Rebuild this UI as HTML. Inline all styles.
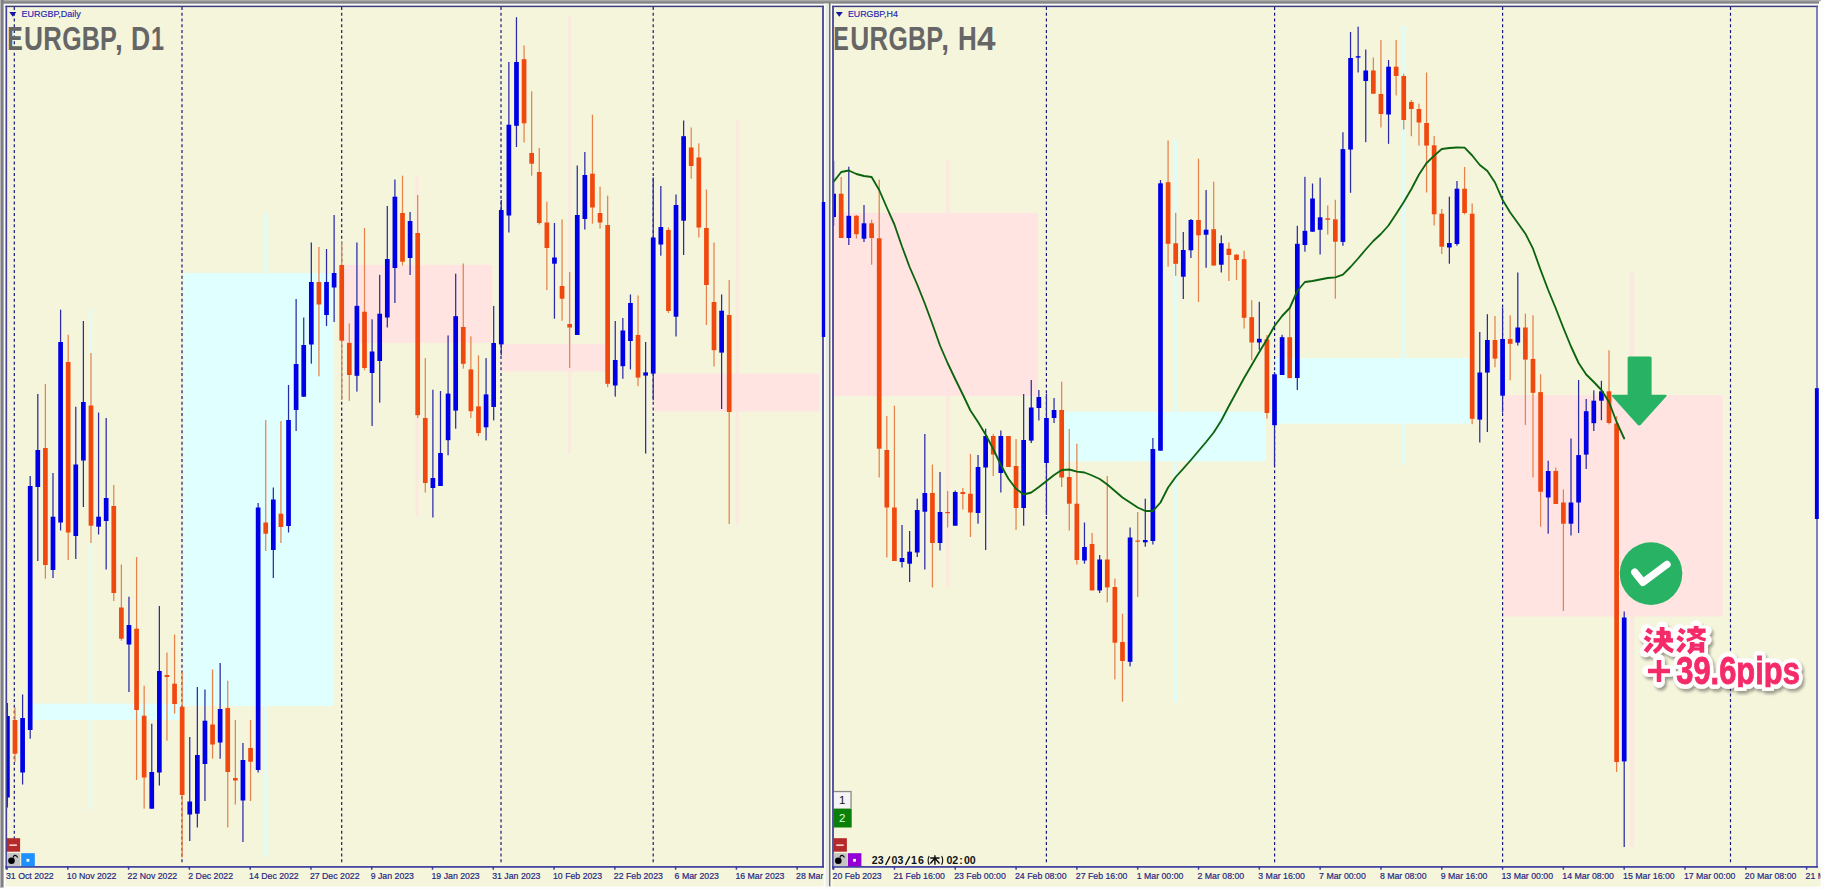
<!DOCTYPE html><html><head><meta charset="utf-8"><title>EURGBP</title><style>html,body{margin:0;padding:0;background:#fdfdfd;width:1824px;height:890px;overflow:hidden;font-family:"Liberation Sans",sans-serif}</style></head><body><svg width="1824" height="890" viewBox="0 0 1824 890" style="display:block;position:absolute;left:0;top:0" font-family="Liberation Sans, sans-serif">
<defs>
<clipPath id="cl"><rect x="6.8" y="6.8" width="815.6" height="859.4"/></clipPath>
<clipPath id="cr"><rect x="833.5" y="6.8" width="983" height="859.4"/></clipPath>
<clipPath id="cl2"><rect x="4" y="866" width="819.5" height="22"/></clipPath>
<clipPath id="cr2"><rect x="830" y="866" width="990.5" height="22"/></clipPath>
<filter id="sh" x="-20%" y="-20%" width="140%" height="150%"><feGaussianBlur in="SourceAlpha" stdDeviation="1.6"/><feOffset dx="1.5" dy="2.5"/><feComponentTransfer><feFuncA type="linear" slope="0.36"/></feComponentTransfer><feMerge><feMergeNode/><feMergeNode in="SourceGraphic"/></feMerge></filter>
<clipPath id="ctp"><rect x="1600" y="600" width="224" height="87.3"/></clipPath><clipPath id="ctw"><rect x="1600" y="600" width="224" height="90.8"/></clipPath>
</defs>
<rect x="0.00" y="0.00" width="1824.00" height="890.00" fill="#fdfdfd" />
<rect x="0.00" y="0.00" width="1819.00" height="3.70" fill="#868686" />
<rect x="0.00" y="0.00" width="1821.00" height="1.30" fill="#ababab" />
<rect x="0.00" y="0.00" width="3.60" height="887.50" fill="#808084" />
<rect x="0.00" y="0.00" width="1.00" height="887.50" fill="#b4b4b4" />
<rect x="5.60" y="5.80" width="818.30" height="880.60" fill="#f5f5dc" />
<rect x="832.00" y="5.80" width="986.20" height="880.60" fill="#f5f5dc" />
<rect x="832.00" y="867.00" width="988.60" height="19.40" fill="#f5f5dc" />
<rect x="823.90" y="3.70" width="8.30" height="883.00" fill="#fdfdf8" />
<rect x="825.60" y="3.70" width="2.70" height="883.00" fill="#ebebe6" />
<rect x="828.90" y="2.80" width="1.60" height="883.60" fill="#6f736f" />
<g clip-path="url(#cl)">
<rect x="89.20" y="308.00" width="3.00" height="502.00" fill="#e3fbf5" />
<rect x="32.50" y="703.70" width="151.20" height="16.30" fill="#e0ffff" />
<rect x="264.00" y="213.00" width="3.00" height="644.00" fill="#e3fbf5" />
<rect x="183.70" y="273.00" width="149.80" height="433.00" fill="#e0ffff" />
<rect x="415.50" y="176.00" width="3.00" height="341.00" fill="#fbe9e0" />
<rect x="341.80" y="264.80" width="150.50" height="78.10" fill="#ffe4e1" />
<rect x="568.20" y="16.70" width="3.00" height="436.80" fill="#fbe9e0" />
<rect x="502.00" y="344.00" width="104.00" height="27.40" fill="#ffe4e1" />
<rect x="735.70" y="120.00" width="3.00" height="405.00" fill="#fbe9e0" />
<rect x="654.20" y="373.60" width="165.60" height="37.80" fill="#ffe4e1" />
<line x1="14.3" y1="7" x2="14.3" y2="864" stroke="#16167c" stroke-width="1.2" stroke-dasharray="3 2.72"/>
<line x1="182" y1="7" x2="182" y2="864" stroke="#16167c" stroke-width="1.2" stroke-dasharray="3 2.72"/>
<line x1="341.7" y1="7" x2="341.7" y2="864" stroke="#16167c" stroke-width="1.2" stroke-dasharray="3 2.72"/>
<line x1="501" y1="7" x2="501" y2="864" stroke="#16167c" stroke-width="1.2" stroke-dasharray="3 2.72"/>
<line x1="653.2" y1="7" x2="653.2" y2="864" stroke="#16167c" stroke-width="1.2" stroke-dasharray="3 2.72"/>
<rect x="6.78" y="703.00" width="1.25" height="104.50" fill="#2b2ba8" />
<rect x="5.05" y="716.00" width="4.70" height="81.50" fill="#0000e6" />
<rect x="14.37" y="707.50" width="1.25" height="54.50" fill="#e6834c" />
<rect x="12.65" y="720.00" width="4.70" height="33.70" fill="#f0490f" />
<rect x="21.97" y="694.50" width="1.25" height="90.00" fill="#2b2ba8" />
<rect x="20.25" y="718.00" width="4.70" height="54.50" fill="#0000e6" />
<rect x="29.57" y="476.00" width="1.25" height="262.70" fill="#2b2ba8" />
<rect x="27.84" y="486.00" width="4.70" height="244.00" fill="#0000e6" />
<rect x="37.17" y="394.00" width="1.25" height="167.00" fill="#2b2ba8" />
<rect x="35.44" y="450.00" width="4.70" height="37.00" fill="#0000e6" />
<rect x="44.77" y="384.00" width="1.25" height="194.70" fill="#e6834c" />
<rect x="43.04" y="448.00" width="4.70" height="117.00" fill="#f0490f" />
<rect x="52.36" y="473.00" width="1.25" height="105.00" fill="#2b2ba8" />
<rect x="50.64" y="516.70" width="4.70" height="53.30" fill="#0000e6" />
<rect x="59.96" y="309.70" width="1.25" height="220.80" fill="#2b2ba8" />
<rect x="58.24" y="342.00" width="4.70" height="180.50" fill="#0000e6" />
<rect x="67.56" y="334.70" width="1.25" height="225.30" fill="#e6834c" />
<rect x="65.83" y="362.00" width="4.70" height="170.50" fill="#f0490f" />
<rect x="75.16" y="406.70" width="1.25" height="152.30" fill="#2b2ba8" />
<rect x="73.43" y="464.50" width="4.70" height="71.50" fill="#0000e6" />
<rect x="82.76" y="321.00" width="1.25" height="186.00" fill="#2b2ba8" />
<rect x="81.03" y="402.00" width="4.70" height="58.50" fill="#0000e6" />
<rect x="90.35" y="353.00" width="1.25" height="190.00" fill="#e6834c" />
<rect x="88.63" y="405.50" width="4.70" height="120.20" fill="#f0490f" />
<rect x="97.95" y="412.50" width="1.25" height="122.00" fill="#2b2ba8" />
<rect x="96.23" y="516.70" width="4.70" height="10.00" fill="#0000e6" />
<rect x="105.55" y="418.00" width="1.25" height="151.50" fill="#2b2ba8" />
<rect x="103.82" y="498.00" width="4.70" height="23.00" fill="#0000e6" />
<rect x="113.15" y="485.00" width="1.25" height="116.00" fill="#e6834c" />
<rect x="111.42" y="506.00" width="4.70" height="87.00" fill="#f0490f" />
<rect x="120.75" y="564.50" width="1.25" height="76.20" fill="#e6834c" />
<rect x="119.02" y="607.50" width="4.70" height="31.20" fill="#f0490f" />
<rect x="128.34" y="596.70" width="1.25" height="95.30" fill="#2b2ba8" />
<rect x="126.62" y="625.00" width="4.70" height="19.50" fill="#0000e6" />
<rect x="135.94" y="557.00" width="1.25" height="223.00" fill="#e6834c" />
<rect x="134.22" y="628.70" width="4.70" height="81.30" fill="#f0490f" />
<rect x="143.54" y="685.70" width="1.25" height="123.00" fill="#e6834c" />
<rect x="141.81" y="715.70" width="4.70" height="61.80" fill="#f0490f" />
<rect x="151.14" y="723.70" width="1.25" height="85.00" fill="#2b2ba8" />
<rect x="149.41" y="772.00" width="4.70" height="36.70" fill="#0000e6" />
<rect x="158.74" y="606.00" width="1.25" height="179.50" fill="#2b2ba8" />
<rect x="157.01" y="671.00" width="4.70" height="101.50" fill="#0000e6" />
<rect x="166.33" y="652.50" width="1.25" height="88.20" fill="#e6834c" />
<rect x="164.61" y="675.00" width="4.70" height="2.00" fill="#f0490f" />
<rect x="173.93" y="634.50" width="1.25" height="79.20" fill="#e6834c" />
<rect x="172.21" y="683.70" width="4.70" height="20.30" fill="#f0490f" />
<rect x="181.53" y="672.00" width="1.25" height="185.50" fill="#e6834c" />
<rect x="179.80" y="706.70" width="4.70" height="88.30" fill="#f0490f" />
<rect x="189.13" y="737.00" width="1.25" height="104.00" fill="#2b2ba8" />
<rect x="187.40" y="801.50" width="4.70" height="13.00" fill="#0000e6" />
<rect x="196.72" y="687.00" width="1.25" height="140.50" fill="#2b2ba8" />
<rect x="195.00" y="755.00" width="4.70" height="58.70" fill="#0000e6" />
<rect x="204.32" y="689.50" width="1.25" height="111.50" fill="#2b2ba8" />
<rect x="202.60" y="720.70" width="4.70" height="43.30" fill="#0000e6" />
<rect x="211.92" y="669.50" width="1.25" height="89.20" fill="#e6834c" />
<rect x="210.20" y="724.50" width="4.70" height="20.00" fill="#f0490f" />
<rect x="219.52" y="663.00" width="1.25" height="95.70" fill="#2b2ba8" />
<rect x="217.79" y="709.00" width="4.70" height="33.50" fill="#0000e6" />
<rect x="227.12" y="680.70" width="1.25" height="146.80" fill="#e6834c" />
<rect x="225.39" y="708.00" width="4.70" height="64.00" fill="#f0490f" />
<rect x="234.72" y="720.00" width="1.25" height="84.50" fill="#e6834c" />
<rect x="232.99" y="778.00" width="4.70" height="2.50" fill="#f0490f" />
<rect x="242.31" y="743.00" width="1.25" height="99.00" fill="#2b2ba8" />
<rect x="240.59" y="760.00" width="4.70" height="40.50" fill="#0000e6" />
<rect x="249.91" y="720.00" width="1.25" height="81.00" fill="#e6834c" />
<rect x="248.19" y="748.00" width="4.70" height="13.70" fill="#f0490f" />
<rect x="257.51" y="503.00" width="1.25" height="269.50" fill="#2b2ba8" />
<rect x="255.78" y="507.50" width="4.70" height="262.50" fill="#0000e6" />
<rect x="265.11" y="420.00" width="1.25" height="131.00" fill="#e6834c" />
<rect x="263.38" y="522.50" width="4.70" height="11.20" fill="#f0490f" />
<rect x="272.70" y="487.50" width="1.25" height="90.50" fill="#2b2ba8" />
<rect x="270.98" y="499.50" width="4.70" height="50.50" fill="#0000e6" />
<rect x="280.30" y="421.00" width="1.25" height="122.00" fill="#e6834c" />
<rect x="278.58" y="513.70" width="4.70" height="13.30" fill="#f0490f" />
<rect x="287.90" y="385.00" width="1.25" height="147.50" fill="#2b2ba8" />
<rect x="286.18" y="420.00" width="4.70" height="106.00" fill="#0000e6" />
<rect x="295.50" y="299.00" width="1.25" height="132.00" fill="#2b2ba8" />
<rect x="293.77" y="364.00" width="4.70" height="46.00" fill="#0000e6" />
<rect x="303.10" y="317.50" width="1.25" height="79.50" fill="#2b2ba8" />
<rect x="301.37" y="345.00" width="4.70" height="51.70" fill="#0000e6" />
<rect x="310.69" y="242.50" width="1.25" height="121.20" fill="#2b2ba8" />
<rect x="308.97" y="282.00" width="4.70" height="62.50" fill="#0000e6" />
<rect x="318.29" y="247.00" width="1.25" height="129.30" fill="#e6834c" />
<rect x="316.57" y="282.00" width="4.70" height="22.50" fill="#f0490f" />
<rect x="325.89" y="249.00" width="1.25" height="77.00" fill="#2b2ba8" />
<rect x="324.17" y="282.00" width="4.70" height="33.00" fill="#0000e6" />
<rect x="333.49" y="215.00" width="1.25" height="107.00" fill="#2b2ba8" />
<rect x="331.76" y="273.00" width="4.70" height="14.50" fill="#0000e6" />
<rect x="341.09" y="242.00" width="1.25" height="158.00" fill="#e6834c" />
<rect x="339.36" y="265.00" width="4.70" height="75.60" fill="#f0490f" />
<rect x="348.68" y="323.40" width="1.25" height="77.40" fill="#e6834c" />
<rect x="346.96" y="342.90" width="4.70" height="32.10" fill="#f0490f" />
<rect x="356.28" y="242.50" width="1.25" height="149.10" fill="#2b2ba8" />
<rect x="354.56" y="305.80" width="4.70" height="70.00" fill="#0000e6" />
<rect x="363.88" y="228.00" width="1.25" height="142.20" fill="#e6834c" />
<rect x="362.16" y="311.70" width="4.70" height="56.30" fill="#f0490f" />
<rect x="371.48" y="319.30" width="1.25" height="106.70" fill="#2b2ba8" />
<rect x="369.75" y="351.50" width="4.70" height="21.50" fill="#0000e6" />
<rect x="379.08" y="274.80" width="1.25" height="127.80" fill="#2b2ba8" />
<rect x="377.35" y="313.70" width="4.70" height="47.30" fill="#0000e6" />
<rect x="386.67" y="206.00" width="1.25" height="121.50" fill="#2b2ba8" />
<rect x="384.95" y="259.00" width="4.70" height="58.50" fill="#0000e6" />
<rect x="394.27" y="179.50" width="1.25" height="123.50" fill="#2b2ba8" />
<rect x="392.55" y="196.70" width="4.70" height="71.30" fill="#0000e6" />
<rect x="401.87" y="175.70" width="1.25" height="89.80" fill="#e6834c" />
<rect x="400.15" y="213.00" width="4.70" height="48.70" fill="#f0490f" />
<rect x="409.47" y="212.00" width="1.25" height="63.00" fill="#2b2ba8" />
<rect x="407.74" y="221.00" width="4.70" height="37.00" fill="#0000e6" />
<rect x="417.07" y="195.00" width="1.25" height="223.00" fill="#e6834c" />
<rect x="415.34" y="233.00" width="4.70" height="182.20" fill="#f0490f" />
<rect x="424.66" y="358.10" width="1.25" height="134.40" fill="#e6834c" />
<rect x="422.94" y="418.00" width="4.70" height="65.00" fill="#f0490f" />
<rect x="432.26" y="389.70" width="1.25" height="127.80" fill="#2b2ba8" />
<rect x="430.54" y="478.00" width="4.70" height="10.00" fill="#0000e6" />
<rect x="439.86" y="391.00" width="1.25" height="95.00" fill="#2b2ba8" />
<rect x="438.14" y="453.00" width="4.70" height="33.00" fill="#0000e6" />
<rect x="447.46" y="335.40" width="1.25" height="119.90" fill="#2b2ba8" />
<rect x="445.73" y="393.60" width="4.70" height="46.60" fill="#0000e6" />
<rect x="455.06" y="273.70" width="1.25" height="155.00" fill="#2b2ba8" />
<rect x="453.33" y="316.20" width="4.70" height="94.40" fill="#0000e6" />
<rect x="462.65" y="263.50" width="1.25" height="105.10" fill="#e6834c" />
<rect x="460.93" y="327.00" width="4.70" height="36.80" fill="#f0490f" />
<rect x="470.25" y="336.30" width="1.25" height="81.70" fill="#e6834c" />
<rect x="468.53" y="369.40" width="4.70" height="41.80" fill="#f0490f" />
<rect x="477.85" y="355.40" width="1.25" height="80.80" fill="#e6834c" />
<rect x="476.13" y="406.40" width="4.70" height="26.60" fill="#f0490f" />
<rect x="485.45" y="358.10" width="1.25" height="82.30" fill="#2b2ba8" />
<rect x="483.72" y="394.40" width="4.70" height="32.90" fill="#0000e6" />
<rect x="493.05" y="305.90" width="1.25" height="114.50" fill="#2b2ba8" />
<rect x="491.32" y="343.00" width="4.70" height="64.00" fill="#0000e6" />
<rect x="500.64" y="200.00" width="1.25" height="155.40" fill="#2b2ba8" />
<rect x="498.92" y="210.00" width="4.70" height="134.40" fill="#0000e6" />
<rect x="508.24" y="62.00" width="1.25" height="170.50" fill="#2b2ba8" />
<rect x="506.52" y="124.70" width="4.70" height="90.80" fill="#0000e6" />
<rect x="515.84" y="17.20" width="1.25" height="129.80" fill="#2b2ba8" />
<rect x="514.12" y="62.00" width="4.70" height="63.80" fill="#0000e6" />
<rect x="523.44" y="45.50" width="1.25" height="97.00" fill="#e6834c" />
<rect x="521.71" y="59.20" width="4.70" height="64.10" fill="#f0490f" />
<rect x="531.04" y="91.30" width="1.25" height="84.40" fill="#e6834c" />
<rect x="529.31" y="153.00" width="4.70" height="10.70" fill="#f0490f" />
<rect x="538.63" y="148.00" width="1.25" height="76.50" fill="#e6834c" />
<rect x="536.91" y="172.00" width="4.70" height="51.00" fill="#f0490f" />
<rect x="546.23" y="201.70" width="1.25" height="88.30" fill="#e6834c" />
<rect x="544.51" y="222.50" width="4.70" height="25.50" fill="#f0490f" />
<rect x="553.83" y="223.00" width="1.25" height="95.70" fill="#2b2ba8" />
<rect x="552.11" y="257.50" width="4.70" height="6.20" fill="#0000e6" />
<rect x="561.43" y="219.50" width="1.25" height="101.20" fill="#e6834c" />
<rect x="559.70" y="286.00" width="4.70" height="12.70" fill="#f0490f" />
<rect x="569.03" y="272.00" width="1.25" height="96.00" fill="#e6834c" />
<rect x="567.30" y="324.00" width="4.70" height="3.50" fill="#f0490f" />
<rect x="576.62" y="165.50" width="1.25" height="169.50" fill="#2b2ba8" />
<rect x="574.90" y="215.00" width="4.70" height="120.00" fill="#0000e6" />
<rect x="584.22" y="152.00" width="1.25" height="77.50" fill="#2b2ba8" />
<rect x="582.50" y="175.00" width="4.70" height="44.00" fill="#0000e6" />
<rect x="591.82" y="114.70" width="1.25" height="109.00" fill="#e6834c" />
<rect x="590.10" y="173.70" width="4.70" height="33.80" fill="#f0490f" />
<rect x="599.42" y="186.70" width="1.25" height="42.00" fill="#e6834c" />
<rect x="597.69" y="213.00" width="4.70" height="9.50" fill="#f0490f" />
<rect x="607.02" y="195.70" width="1.25" height="191.50" fill="#e6834c" />
<rect x="605.29" y="225.00" width="4.70" height="158.80" fill="#f0490f" />
<rect x="614.62" y="321.00" width="1.25" height="75.60" fill="#2b2ba8" />
<rect x="612.89" y="360.00" width="4.70" height="25.50" fill="#0000e6" />
<rect x="622.21" y="318.00" width="1.25" height="60.80" fill="#2b2ba8" />
<rect x="620.49" y="330.50" width="4.70" height="35.70" fill="#0000e6" />
<rect x="629.81" y="294.50" width="1.25" height="74.90" fill="#2b2ba8" />
<rect x="628.09" y="303.00" width="4.70" height="38.00" fill="#0000e6" />
<rect x="637.41" y="295.50" width="1.25" height="90.70" fill="#e6834c" />
<rect x="635.68" y="335.00" width="4.70" height="42.60" fill="#f0490f" />
<rect x="645.01" y="342.00" width="1.25" height="111.50" fill="#2b2ba8" />
<rect x="643.28" y="372.40" width="4.70" height="3.20" fill="#0000e6" />
<rect x="652.61" y="177.50" width="1.25" height="222.80" fill="#2b2ba8" />
<rect x="650.88" y="237.50" width="4.70" height="136.10" fill="#0000e6" />
<rect x="660.20" y="186.00" width="1.25" height="69.70" fill="#2b2ba8" />
<rect x="658.48" y="227.00" width="4.70" height="17.50" fill="#0000e6" />
<rect x="667.80" y="227.50" width="1.25" height="85.50" fill="#e6834c" />
<rect x="666.08" y="230.00" width="4.70" height="81.00" fill="#f0490f" />
<rect x="675.40" y="194.50" width="1.25" height="142.00" fill="#2b2ba8" />
<rect x="673.67" y="205.00" width="4.70" height="111.70" fill="#0000e6" />
<rect x="683.00" y="120.50" width="1.25" height="134.50" fill="#2b2ba8" />
<rect x="681.27" y="136.20" width="4.70" height="84.50" fill="#0000e6" />
<rect x="690.59" y="127.50" width="1.25" height="51.20" fill="#e6834c" />
<rect x="688.87" y="147.50" width="4.70" height="18.50" fill="#f0490f" />
<rect x="698.19" y="143.30" width="1.25" height="94.20" fill="#e6834c" />
<rect x="696.47" y="157.50" width="4.70" height="70.00" fill="#f0490f" />
<rect x="705.79" y="189.50" width="1.25" height="135.50" fill="#e6834c" />
<rect x="704.07" y="228.00" width="4.70" height="57.00" fill="#f0490f" />
<rect x="713.39" y="242.50" width="1.25" height="124.00" fill="#e6834c" />
<rect x="711.66" y="302.00" width="4.70" height="48.20" fill="#f0490f" />
<rect x="720.99" y="294.50" width="1.25" height="114.50" fill="#2b2ba8" />
<rect x="719.26" y="310.70" width="4.70" height="41.90" fill="#0000e6" />
<rect x="728.58" y="280.00" width="1.25" height="244.00" fill="#e6834c" />
<rect x="726.86" y="315.00" width="4.70" height="97.00" fill="#f0490f" />
</g>
<g clip-path="url(#cr)">
<rect x="946.20" y="160.00" width="3.00" height="427.00" fill="#fbe9e0" />
<rect x="833.00" y="212.80" width="205.00" height="183.40" fill="#ffe4e1" />
<rect x="1173.70" y="140.00" width="4.00" height="563.00" fill="#e3fbf5" />
<rect x="1064.70" y="411.70" width="201.30" height="49.50" fill="#e0ffff" />
<rect x="1401.40" y="26.00" width="4.00" height="439.00" fill="#e3fbf5" />
<rect x="1274.70" y="358.00" width="195.30" height="65.70" fill="#e0ffff" />
<rect x="1629.80" y="272.50" width="4.40" height="574.50" fill="#fbe9e0" />
<rect x="1503.50" y="395.20" width="219.50" height="221.20" fill="#ffe4e1" />
<line x1="1046.4" y1="7" x2="1046.4" y2="864" stroke="#16167c" stroke-width="1.2" stroke-dasharray="3 2.72"/>
<line x1="1274.6" y1="7" x2="1274.6" y2="864" stroke="#16167c" stroke-width="1.2" stroke-dasharray="3 2.72"/>
<line x1="1502.6" y1="7" x2="1502.6" y2="864" stroke="#16167c" stroke-width="1.2" stroke-dasharray="3 2.72"/>
<line x1="1730.5" y1="7" x2="1730.5" y2="864" stroke="#16167c" stroke-width="1.2" stroke-dasharray="3 2.72"/>
<rect x="832.98" y="160.80" width="1.25" height="65.00" fill="#2b2ba8" />
<rect x="831.25" y="193.70" width="4.70" height="23.30" fill="#0000e6" />
<rect x="840.58" y="177.00" width="1.25" height="61.00" fill="#e6834c" />
<rect x="838.85" y="193.70" width="4.70" height="44.30" fill="#f0490f" />
<rect x="848.18" y="166.70" width="1.25" height="78.30" fill="#2b2ba8" />
<rect x="846.45" y="215.80" width="4.70" height="22.20" fill="#0000e6" />
<rect x="855.78" y="215.00" width="1.25" height="23.70" fill="#e6834c" />
<rect x="854.06" y="215.80" width="4.70" height="18.40" fill="#f0490f" />
<rect x="863.38" y="205.00" width="1.25" height="37.00" fill="#2b2ba8" />
<rect x="861.66" y="223.30" width="4.70" height="15.40" fill="#0000e6" />
<rect x="870.99" y="219.70" width="1.25" height="45.00" fill="#e6834c" />
<rect x="869.26" y="223.30" width="4.70" height="14.70" fill="#f0490f" />
<rect x="878.59" y="179.70" width="1.25" height="297.80" fill="#e6834c" />
<rect x="876.86" y="238.30" width="4.70" height="210.40" fill="#f0490f" />
<rect x="886.19" y="416.00" width="1.25" height="141.50" fill="#e6834c" />
<rect x="884.46" y="450.00" width="4.70" height="57.50" fill="#f0490f" />
<rect x="893.79" y="405.70" width="1.25" height="155.30" fill="#e6834c" />
<rect x="892.07" y="507.50" width="4.70" height="53.50" fill="#f0490f" />
<rect x="901.39" y="525.00" width="1.25" height="42.50" fill="#2b2ba8" />
<rect x="899.67" y="558.00" width="4.70" height="4.00" fill="#0000e6" />
<rect x="909.00" y="531.00" width="1.25" height="51.00" fill="#2b2ba8" />
<rect x="907.27" y="551.70" width="4.70" height="12.00" fill="#0000e6" />
<rect x="916.60" y="498.70" width="1.25" height="58.30" fill="#2b2ba8" />
<rect x="914.87" y="510.00" width="4.70" height="42.50" fill="#0000e6" />
<rect x="924.20" y="434.00" width="1.25" height="135.50" fill="#2b2ba8" />
<rect x="922.47" y="493.00" width="4.70" height="18.70" fill="#0000e6" />
<rect x="931.80" y="464.50" width="1.25" height="123.00" fill="#e6834c" />
<rect x="930.08" y="493.00" width="4.70" height="50.00" fill="#f0490f" />
<rect x="939.40" y="472.00" width="1.25" height="78.50" fill="#2b2ba8" />
<rect x="937.68" y="512.00" width="4.70" height="31.00" fill="#0000e6" />
<rect x="947.00" y="491.00" width="1.25" height="36.50" fill="#e6834c" />
<rect x="945.28" y="512.00" width="4.70" height="1.20" fill="#f0490f" />
<rect x="954.61" y="490.50" width="1.25" height="35.20" fill="#2b2ba8" />
<rect x="952.88" y="492.00" width="4.70" height="33.70" fill="#0000e6" />
<rect x="962.21" y="488.00" width="1.25" height="21.50" fill="#e6834c" />
<rect x="960.48" y="492.00" width="4.70" height="2.00" fill="#f0490f" />
<rect x="969.81" y="454.00" width="1.25" height="83.00" fill="#e6834c" />
<rect x="968.09" y="493.70" width="4.70" height="18.80" fill="#f0490f" />
<rect x="977.41" y="455.00" width="1.25" height="68.70" fill="#2b2ba8" />
<rect x="975.69" y="467.00" width="4.70" height="46.00" fill="#0000e6" />
<rect x="985.02" y="428.70" width="1.25" height="121.30" fill="#2b2ba8" />
<rect x="983.29" y="436.00" width="4.70" height="31.50" fill="#0000e6" />
<rect x="992.62" y="434.00" width="1.25" height="42.00" fill="#e6834c" />
<rect x="990.89" y="436.00" width="4.70" height="18.50" fill="#f0490f" />
<rect x="1000.22" y="430.50" width="1.25" height="62.00" fill="#2b2ba8" />
<rect x="998.49" y="436.00" width="4.70" height="37.00" fill="#0000e6" />
<rect x="1007.82" y="436.00" width="1.25" height="31.00" fill="#e6834c" />
<rect x="1006.10" y="436.00" width="4.70" height="31.00" fill="#f0490f" />
<rect x="1015.42" y="439.00" width="1.25" height="91.00" fill="#e6834c" />
<rect x="1013.70" y="466.00" width="4.70" height="42.00" fill="#f0490f" />
<rect x="1023.03" y="394.00" width="1.25" height="131.70" fill="#2b2ba8" />
<rect x="1021.30" y="440.00" width="4.70" height="68.00" fill="#0000e6" />
<rect x="1030.63" y="380.00" width="1.25" height="63.00" fill="#2b2ba8" />
<rect x="1028.90" y="407.50" width="4.70" height="33.10" fill="#0000e6" />
<rect x="1038.23" y="390.00" width="1.25" height="30.50" fill="#2b2ba8" />
<rect x="1036.50" y="397.00" width="4.70" height="11.00" fill="#0000e6" />
<rect x="1045.83" y="393.70" width="1.25" height="121.30" fill="#2b2ba8" />
<rect x="1044.11" y="418.00" width="4.70" height="45.00" fill="#0000e6" />
<rect x="1053.43" y="398.00" width="1.25" height="25.00" fill="#2b2ba8" />
<rect x="1051.71" y="410.00" width="4.70" height="8.00" fill="#0000e6" />
<rect x="1061.04" y="381.70" width="1.25" height="105.30" fill="#e6834c" />
<rect x="1059.31" y="410.00" width="4.70" height="67.50" fill="#f0490f" />
<rect x="1068.64" y="429.00" width="1.25" height="101.50" fill="#e6834c" />
<rect x="1066.91" y="477.00" width="4.70" height="26.70" fill="#f0490f" />
<rect x="1076.24" y="443.70" width="1.25" height="120.80" fill="#e6834c" />
<rect x="1074.51" y="503.70" width="4.70" height="56.30" fill="#f0490f" />
<rect x="1083.84" y="522.50" width="1.25" height="41.20" fill="#2b2ba8" />
<rect x="1082.12" y="547.00" width="4.70" height="13.50" fill="#0000e6" />
<rect x="1091.44" y="533.00" width="1.25" height="57.40" fill="#e6834c" />
<rect x="1089.72" y="544.00" width="4.70" height="46.40" fill="#f0490f" />
<rect x="1099.05" y="555.00" width="1.25" height="38.00" fill="#2b2ba8" />
<rect x="1097.32" y="559.50" width="4.70" height="30.90" fill="#0000e6" />
<rect x="1106.65" y="476.00" width="1.25" height="126.40" fill="#e6834c" />
<rect x="1104.92" y="559.50" width="4.70" height="27.90" fill="#f0490f" />
<rect x="1114.25" y="578.60" width="1.25" height="100.80" fill="#e6834c" />
<rect x="1112.52" y="587.00" width="4.70" height="55.70" fill="#f0490f" />
<rect x="1121.85" y="613.70" width="1.25" height="88.00" fill="#e6834c" />
<rect x="1120.13" y="642.00" width="4.70" height="19.00" fill="#f0490f" />
<rect x="1129.45" y="527.50" width="1.25" height="138.90" fill="#2b2ba8" />
<rect x="1127.73" y="537.50" width="4.70" height="124.30" fill="#0000e6" />
<rect x="1137.06" y="512.00" width="1.25" height="85.00" fill="#e6834c" />
<rect x="1135.33" y="540.50" width="4.70" height="1.20" fill="#f0490f" />
<rect x="1144.66" y="498.70" width="1.25" height="48.00" fill="#2b2ba8" />
<rect x="1142.93" y="540.00" width="4.70" height="2.30" fill="#0000e6" />
<rect x="1152.26" y="438.00" width="1.25" height="106.50" fill="#2b2ba8" />
<rect x="1150.53" y="449.00" width="4.70" height="92.00" fill="#0000e6" />
<rect x="1159.86" y="180.00" width="1.25" height="270.70" fill="#2b2ba8" />
<rect x="1158.14" y="183.30" width="4.70" height="267.40" fill="#0000e6" />
<rect x="1167.46" y="140.50" width="1.25" height="126.20" fill="#e6834c" />
<rect x="1165.74" y="182.20" width="4.70" height="61.60" fill="#f0490f" />
<rect x="1175.07" y="212.80" width="1.25" height="63.00" fill="#e6834c" />
<rect x="1173.34" y="243.30" width="4.70" height="20.50" fill="#f0490f" />
<rect x="1182.67" y="232.00" width="1.25" height="67.00" fill="#2b2ba8" />
<rect x="1180.94" y="250.00" width="4.70" height="26.70" fill="#0000e6" />
<rect x="1190.27" y="219.00" width="1.25" height="39.00" fill="#2b2ba8" />
<rect x="1188.54" y="220.00" width="4.70" height="30.30" fill="#0000e6" />
<rect x="1197.87" y="158.70" width="1.25" height="143.30" fill="#e6834c" />
<rect x="1196.15" y="220.00" width="4.70" height="15.30" fill="#f0490f" />
<rect x="1205.47" y="190.00" width="1.25" height="77.80" fill="#2b2ba8" />
<rect x="1203.75" y="229.70" width="4.70" height="5.00" fill="#0000e6" />
<rect x="1213.08" y="181.70" width="1.25" height="83.80" fill="#e6834c" />
<rect x="1211.35" y="229.20" width="4.70" height="36.30" fill="#f0490f" />
<rect x="1220.68" y="235.30" width="1.25" height="37.20" fill="#2b2ba8" />
<rect x="1218.95" y="243.30" width="4.70" height="21.40" fill="#0000e6" />
<rect x="1228.28" y="242.50" width="1.25" height="38.50" fill="#e6834c" />
<rect x="1226.55" y="248.70" width="4.70" height="6.30" fill="#f0490f" />
<rect x="1235.88" y="254.00" width="1.25" height="26.00" fill="#e6834c" />
<rect x="1234.16" y="254.70" width="4.70" height="5.30" fill="#f0490f" />
<rect x="1243.48" y="250.80" width="1.25" height="77.70" fill="#e6834c" />
<rect x="1241.76" y="259.20" width="4.70" height="58.60" fill="#f0490f" />
<rect x="1251.09" y="300.20" width="1.25" height="60.00" fill="#e6834c" />
<rect x="1249.36" y="317.20" width="4.70" height="25.30" fill="#f0490f" />
<rect x="1258.69" y="301.80" width="1.25" height="48.00" fill="#2b2ba8" />
<rect x="1256.96" y="338.80" width="4.70" height="3.70" fill="#0000e6" />
<rect x="1266.29" y="335.00" width="1.25" height="83.70" fill="#e6834c" />
<rect x="1264.56" y="339.30" width="4.70" height="73.70" fill="#f0490f" />
<rect x="1273.89" y="372.00" width="1.25" height="94.00" fill="#2b2ba8" />
<rect x="1272.17" y="374.30" width="4.70" height="50.90" fill="#0000e6" />
<rect x="1281.49" y="334.80" width="1.25" height="40.20" fill="#2b2ba8" />
<rect x="1279.77" y="337.20" width="4.70" height="37.80" fill="#0000e6" />
<rect x="1289.10" y="307.50" width="1.25" height="70.60" fill="#e6834c" />
<rect x="1287.37" y="337.20" width="4.70" height="40.90" fill="#f0490f" />
<rect x="1296.70" y="225.80" width="1.25" height="164.20" fill="#2b2ba8" />
<rect x="1294.97" y="243.80" width="4.70" height="134.20" fill="#0000e6" />
<rect x="1304.30" y="176.80" width="1.25" height="74.90" fill="#2b2ba8" />
<rect x="1302.57" y="230.80" width="4.70" height="14.20" fill="#0000e6" />
<rect x="1311.90" y="183.50" width="1.25" height="48.20" fill="#2b2ba8" />
<rect x="1310.18" y="198.50" width="4.70" height="33.20" fill="#0000e6" />
<rect x="1319.50" y="177.70" width="1.25" height="76.80" fill="#2b2ba8" />
<rect x="1317.78" y="217.30" width="4.70" height="12.50" fill="#0000e6" />
<rect x="1327.11" y="205.50" width="1.25" height="29.00" fill="#e6834c" />
<rect x="1325.38" y="218.30" width="4.70" height="1.50" fill="#f0490f" />
<rect x="1334.71" y="199.80" width="1.25" height="98.90" fill="#e6834c" />
<rect x="1332.98" y="219.30" width="4.70" height="22.40" fill="#f0490f" />
<rect x="1342.31" y="132.20" width="1.25" height="113.60" fill="#2b2ba8" />
<rect x="1340.58" y="149.10" width="4.70" height="92.80" fill="#0000e6" />
<rect x="1349.91" y="32.00" width="1.25" height="160.80" fill="#2b2ba8" />
<rect x="1348.19" y="58.00" width="4.70" height="91.60" fill="#0000e6" />
<rect x="1357.51" y="26.70" width="1.25" height="45.80" fill="#2b2ba8" />
<rect x="1355.79" y="56.20" width="4.70" height="1.40" fill="#0000e6" />
<rect x="1365.12" y="49.50" width="1.25" height="92.70" fill="#2b2ba8" />
<rect x="1363.39" y="70.50" width="4.70" height="10.50" fill="#0000e6" />
<rect x="1372.72" y="57.50" width="1.25" height="36.20" fill="#e6834c" />
<rect x="1370.99" y="70.50" width="4.70" height="23.20" fill="#f0490f" />
<rect x="1380.32" y="40.00" width="1.25" height="87.50" fill="#e6834c" />
<rect x="1378.59" y="94.00" width="4.70" height="20.00" fill="#f0490f" />
<rect x="1387.92" y="60.00" width="1.25" height="83.80" fill="#2b2ba8" />
<rect x="1386.20" y="66.70" width="4.70" height="47.80" fill="#0000e6" />
<rect x="1395.52" y="40.00" width="1.25" height="55.50" fill="#e6834c" />
<rect x="1393.80" y="66.70" width="4.70" height="9.30" fill="#f0490f" />
<rect x="1403.12" y="73.70" width="1.25" height="55.80" fill="#e6834c" />
<rect x="1401.40" y="76.00" width="4.70" height="44.00" fill="#f0490f" />
<rect x="1410.73" y="100.00" width="1.25" height="36.20" fill="#e6834c" />
<rect x="1409.00" y="102.00" width="4.70" height="7.00" fill="#f0490f" />
<rect x="1418.33" y="103.70" width="1.25" height="41.80" fill="#e6834c" />
<rect x="1416.60" y="109.00" width="4.70" height="13.50" fill="#f0490f" />
<rect x="1425.93" y="72.50" width="1.25" height="120.00" fill="#e6834c" />
<rect x="1424.21" y="123.00" width="4.70" height="22.60" fill="#f0490f" />
<rect x="1433.53" y="136.00" width="1.25" height="89.50" fill="#e6834c" />
<rect x="1431.81" y="145.30" width="4.70" height="69.00" fill="#f0490f" />
<rect x="1441.14" y="209.00" width="1.25" height="45.00" fill="#e6834c" />
<rect x="1439.41" y="213.70" width="4.70" height="33.00" fill="#f0490f" />
<rect x="1448.74" y="196.70" width="1.25" height="67.00" fill="#2b2ba8" />
<rect x="1447.01" y="243.00" width="4.70" height="4.50" fill="#0000e6" />
<rect x="1456.34" y="181.00" width="1.25" height="64.70" fill="#2b2ba8" />
<rect x="1454.61" y="188.70" width="4.70" height="55.30" fill="#0000e6" />
<rect x="1463.94" y="167.00" width="1.25" height="47.50" fill="#e6834c" />
<rect x="1462.22" y="188.70" width="4.70" height="24.30" fill="#f0490f" />
<rect x="1471.54" y="203.50" width="1.25" height="220.70" fill="#e6834c" />
<rect x="1469.82" y="213.70" width="4.70" height="205.10" fill="#f0490f" />
<rect x="1479.14" y="332.00" width="1.25" height="110.50" fill="#2b2ba8" />
<rect x="1477.42" y="372.50" width="4.70" height="47.10" fill="#0000e6" />
<rect x="1486.75" y="314.20" width="1.25" height="117.80" fill="#2b2ba8" />
<rect x="1485.02" y="340.00" width="4.70" height="32.60" fill="#0000e6" />
<rect x="1494.35" y="316.00" width="1.25" height="51.30" fill="#e6834c" />
<rect x="1492.62" y="340.00" width="4.70" height="18.60" fill="#f0490f" />
<rect x="1501.95" y="307.70" width="1.25" height="104.80" fill="#2b2ba8" />
<rect x="1500.23" y="339.00" width="4.70" height="56.70" fill="#0000e6" />
<rect x="1509.55" y="315.30" width="1.25" height="65.00" fill="#e6834c" />
<rect x="1507.83" y="339.00" width="4.70" height="4.80" fill="#f0490f" />
<rect x="1517.16" y="272.50" width="1.25" height="73.00" fill="#2b2ba8" />
<rect x="1515.43" y="327.50" width="4.70" height="15.10" fill="#0000e6" />
<rect x="1524.76" y="313.60" width="1.25" height="111.30" fill="#e6834c" />
<rect x="1523.03" y="327.50" width="4.70" height="32.10" fill="#f0490f" />
<rect x="1532.36" y="315.30" width="1.25" height="162.20" fill="#e6834c" />
<rect x="1530.63" y="358.90" width="4.70" height="33.90" fill="#f0490f" />
<rect x="1539.96" y="374.20" width="1.25" height="152.50" fill="#e6834c" />
<rect x="1538.24" y="392.10" width="4.70" height="99.60" fill="#f0490f" />
<rect x="1547.56" y="460.70" width="1.25" height="73.00" fill="#2b2ba8" />
<rect x="1545.84" y="471.00" width="4.70" height="26.50" fill="#0000e6" />
<rect x="1555.16" y="467.50" width="1.25" height="36.50" fill="#e6834c" />
<rect x="1553.44" y="471.00" width="4.70" height="33.00" fill="#f0490f" />
<rect x="1562.77" y="489.50" width="1.25" height="121.50" fill="#e6834c" />
<rect x="1561.04" y="502.50" width="4.70" height="21.20" fill="#f0490f" />
<rect x="1570.37" y="438.50" width="1.25" height="97.00" fill="#2b2ba8" />
<rect x="1568.64" y="502.50" width="4.70" height="21.20" fill="#0000e6" />
<rect x="1577.97" y="380.00" width="1.25" height="153.00" fill="#2b2ba8" />
<rect x="1576.25" y="455.10" width="4.70" height="47.40" fill="#0000e6" />
<rect x="1585.57" y="399.00" width="1.25" height="70.00" fill="#2b2ba8" />
<rect x="1583.85" y="411.20" width="4.70" height="43.40" fill="#0000e6" />
<rect x="1593.18" y="390.40" width="1.25" height="40.60" fill="#2b2ba8" />
<rect x="1591.45" y="400.70" width="4.70" height="22.50" fill="#0000e6" />
<rect x="1600.78" y="380.80" width="1.25" height="39.40" fill="#2b2ba8" />
<rect x="1599.05" y="391.30" width="4.70" height="9.40" fill="#0000e6" />
<rect x="1608.38" y="350.30" width="1.25" height="74.10" fill="#e6834c" />
<rect x="1606.65" y="391.30" width="4.70" height="31.70" fill="#f0490f" />
<rect x="1615.98" y="416.30" width="1.25" height="355.70" fill="#e6834c" />
<rect x="1614.26" y="423.50" width="4.70" height="338.50" fill="#f0490f" />
<rect x="1623.58" y="611.50" width="1.25" height="235.50" fill="#2b2ba8" />
<rect x="1621.86" y="617.50" width="4.70" height="143.90" fill="#0000e6" />
<polyline points="833.6,181.7 841.2,172.0 848.8,170.5 856.4,174.0 864.0,176.0 871.6,177.0 879.2,190.0 886.8,207.5 894.4,224.5 902.0,246.5 909.6,267.0 917.2,284.5 924.8,303.5 932.4,324.0 940.0,345.5 947.6,363.0 955.2,379.0 962.8,394.5 970.4,410.5 978.0,422.0 985.6,434.5 993.2,449.0 1000.8,465.0 1008.4,478.7 1016.0,488.7 1023.7,494.5 1031.3,492.5 1038.9,487.0 1046.5,481.0 1054.1,475.0 1061.7,470.0 1069.3,469.5 1076.9,471.7 1084.5,472.5 1092.1,475.5 1099.7,479.0 1107.3,484.5 1114.9,491.0 1122.5,497.5 1130.1,502.5 1137.7,507.5 1145.3,511.0 1152.9,511.0 1160.5,502.5 1168.1,487.5 1175.7,477.0 1183.3,468.7 1190.9,460.0 1198.5,451.0 1206.1,442.0 1213.7,432.5 1221.3,420.5 1228.9,406.0 1236.5,392.0 1244.1,378.0 1251.7,365.0 1259.3,352.0 1266.9,339.5 1274.5,326.0 1282.1,316.0 1289.7,308.0 1297.3,291.0 1304.9,282.0 1312.5,281.0 1320.1,279.5 1327.7,278.0 1335.3,277.3 1342.9,274.6 1350.5,267.0 1358.1,258.5 1365.7,249.5 1373.3,241.0 1380.9,234.0 1388.5,225.5 1396.1,214.0 1403.8,202.0 1411.4,189.0 1419.0,174.5 1426.6,163.0 1434.2,155.6 1441.8,149.0 1449.4,148.0 1457.0,147.5 1464.6,147.7 1472.2,155.5 1479.8,165.0 1487.4,171.0 1495.0,182.5 1502.6,200.0 1510.2,212.5 1517.8,223.0 1525.4,233.7 1533.0,248.7 1540.6,270.0 1548.2,290.0 1555.8,308.5 1563.4,328.0 1571.0,346.5 1578.6,363.0 1586.2,374.5 1593.8,382.0 1601.4,390.0 1609.0,402.0 1616.6,422.0 1624.2,438.5" fill="none" stroke="#0c640f" stroke-width="1.85" stroke-linejoin="round" stroke-linecap="round"/>
</g>
<rect x="5.40" y="5.65" width="818.60" height="1.50" fill="#3c3c7c" />
<rect x="5.45" y="5.80" width="1.70" height="863.70" fill="#44449a" />
<rect x="822.10" y="5.80" width="1.80" height="861.80" fill="#44449a" />
<rect x="5.40" y="866.05" width="818.50" height="1.70" fill="#3c3ca0" />
<rect x="832.00" y="5.65" width="986.00" height="1.50" fill="#3c3c7c" />
<rect x="832.10" y="5.80" width="1.80" height="863.70" fill="#44449a" />
<rect x="1816.25" y="5.80" width="1.50" height="861.80" fill="#555ab8" />
<rect x="832.10" y="866.05" width="985.80" height="1.70" fill="#3c3ca0" />
<rect x="821.80" y="202.00" width="3.40" height="135.00" fill="#0000e6" />
<rect x="1814.90" y="388.20" width="3.90" height="130.80" fill="#0000e6" />
<g clip-path="url(#cl2)" font-size="9.5" fill="#262680" stroke="#262680" stroke-width="0.2">
<rect x="6.30" y="866.50" width="1.50" height="3.20" fill="#3c3ca0" stroke="none"/>
<text x="6.0" y="878.8" textLength="47.7" lengthAdjust="spacingAndGlyphs">31 Oct 2022</text>
<rect x="67.08" y="866.50" width="1.50" height="3.20" fill="#3c3ca0" stroke="none"/>
<text x="66.8" y="878.8" textLength="49.6" lengthAdjust="spacingAndGlyphs">10 Nov 2022</text>
<rect x="127.86" y="866.50" width="1.50" height="3.20" fill="#3c3ca0" stroke="none"/>
<text x="127.6" y="878.8" textLength="49.6" lengthAdjust="spacingAndGlyphs">22 Nov 2022</text>
<rect x="188.64" y="866.50" width="1.50" height="3.20" fill="#3c3ca0" stroke="none"/>
<text x="188.3" y="878.8" textLength="44.8" lengthAdjust="spacingAndGlyphs">2 Dec 2022</text>
<rect x="249.42" y="866.50" width="1.50" height="3.20" fill="#3c3ca0" stroke="none"/>
<text x="249.1" y="878.8" textLength="49.6" lengthAdjust="spacingAndGlyphs">14 Dec 2022</text>
<rect x="310.20" y="866.50" width="1.50" height="3.20" fill="#3c3ca0" stroke="none"/>
<text x="309.9" y="878.8" textLength="49.6" lengthAdjust="spacingAndGlyphs">27 Dec 2022</text>
<rect x="370.98" y="866.50" width="1.50" height="3.20" fill="#3c3ca0" stroke="none"/>
<text x="370.7" y="878.8" textLength="43.3" lengthAdjust="spacingAndGlyphs">9 Jan 2023</text>
<rect x="431.76" y="866.50" width="1.50" height="3.20" fill="#3c3ca0" stroke="none"/>
<text x="431.5" y="878.8" textLength="48.2" lengthAdjust="spacingAndGlyphs">19 Jan 2023</text>
<rect x="492.54" y="866.50" width="1.50" height="3.20" fill="#3c3ca0" stroke="none"/>
<text x="492.2" y="878.8" textLength="48.2" lengthAdjust="spacingAndGlyphs">31 Jan 2023</text>
<rect x="553.32" y="866.50" width="1.50" height="3.20" fill="#3c3ca0" stroke="none"/>
<text x="553.0" y="878.8" textLength="49.1" lengthAdjust="spacingAndGlyphs">10 Feb 2023</text>
<rect x="614.10" y="866.50" width="1.50" height="3.20" fill="#3c3ca0" stroke="none"/>
<text x="613.8" y="878.8" textLength="49.1" lengthAdjust="spacingAndGlyphs">22 Feb 2023</text>
<rect x="674.88" y="866.50" width="1.50" height="3.20" fill="#3c3ca0" stroke="none"/>
<text x="674.6" y="878.8" textLength="44.3" lengthAdjust="spacingAndGlyphs">6 Mar 2023</text>
<rect x="735.66" y="866.50" width="1.50" height="3.20" fill="#3c3ca0" stroke="none"/>
<text x="735.4" y="878.8" textLength="49.1" lengthAdjust="spacingAndGlyphs">16 Mar 2023</text>
<rect x="796.44" y="866.50" width="1.50" height="3.20" fill="#3c3ca0" stroke="none"/>
<text x="796.1" y="878.8" textLength="49.1" lengthAdjust="spacingAndGlyphs">28 Mar 2023</text>
</g>
<g clip-path="url(#cr2)" font-size="9.5" fill="#262680" stroke="#262680" stroke-width="0.2">
<rect x="832.90" y="866.50" width="1.50" height="3.20" fill="#3c3ca0" stroke="none"/>
<text x="832.6" y="878.8" textLength="49.1" lengthAdjust="spacingAndGlyphs">20 Feb 2023</text>
<rect x="893.71" y="866.50" width="1.50" height="3.20" fill="#3c3ca0" stroke="none"/>
<text x="893.4" y="878.8" textLength="51.6" lengthAdjust="spacingAndGlyphs">21 Feb 16:00</text>
<rect x="954.52" y="866.50" width="1.50" height="3.20" fill="#3c3ca0" stroke="none"/>
<text x="954.2" y="878.8" textLength="51.6" lengthAdjust="spacingAndGlyphs">23 Feb 00:00</text>
<rect x="1015.33" y="866.50" width="1.50" height="3.20" fill="#3c3ca0" stroke="none"/>
<text x="1015.0" y="878.8" textLength="51.6" lengthAdjust="spacingAndGlyphs">24 Feb 08:00</text>
<rect x="1076.14" y="866.50" width="1.50" height="3.20" fill="#3c3ca0" stroke="none"/>
<text x="1075.8" y="878.8" textLength="51.6" lengthAdjust="spacingAndGlyphs">27 Feb 16:00</text>
<rect x="1136.95" y="866.50" width="1.50" height="3.20" fill="#3c3ca0" stroke="none"/>
<text x="1136.7" y="878.8" textLength="46.7" lengthAdjust="spacingAndGlyphs">1 Mar 00:00</text>
<rect x="1197.76" y="866.50" width="1.50" height="3.20" fill="#3c3ca0" stroke="none"/>
<text x="1197.5" y="878.8" textLength="46.7" lengthAdjust="spacingAndGlyphs">2 Mar 08:00</text>
<rect x="1258.57" y="866.50" width="1.50" height="3.20" fill="#3c3ca0" stroke="none"/>
<text x="1258.3" y="878.8" textLength="46.7" lengthAdjust="spacingAndGlyphs">3 Mar 16:00</text>
<rect x="1319.38" y="866.50" width="1.50" height="3.20" fill="#3c3ca0" stroke="none"/>
<text x="1319.1" y="878.8" textLength="46.7" lengthAdjust="spacingAndGlyphs">7 Mar 00:00</text>
<rect x="1380.19" y="866.50" width="1.50" height="3.20" fill="#3c3ca0" stroke="none"/>
<text x="1379.9" y="878.8" textLength="46.7" lengthAdjust="spacingAndGlyphs">8 Mar 08:00</text>
<rect x="1441.00" y="866.50" width="1.50" height="3.20" fill="#3c3ca0" stroke="none"/>
<text x="1440.7" y="878.8" textLength="46.7" lengthAdjust="spacingAndGlyphs">9 Mar 16:00</text>
<rect x="1501.81" y="866.50" width="1.50" height="3.20" fill="#3c3ca0" stroke="none"/>
<text x="1501.5" y="878.8" textLength="51.6" lengthAdjust="spacingAndGlyphs">13 Mar 00:00</text>
<rect x="1562.62" y="866.50" width="1.50" height="3.20" fill="#3c3ca0" stroke="none"/>
<text x="1562.3" y="878.8" textLength="51.6" lengthAdjust="spacingAndGlyphs">14 Mar 08:00</text>
<rect x="1623.43" y="866.50" width="1.50" height="3.20" fill="#3c3ca0" stroke="none"/>
<text x="1623.1" y="878.8" textLength="51.6" lengthAdjust="spacingAndGlyphs">15 Mar 16:00</text>
<rect x="1684.24" y="866.50" width="1.50" height="3.20" fill="#3c3ca0" stroke="none"/>
<text x="1683.9" y="878.8" textLength="51.6" lengthAdjust="spacingAndGlyphs">17 Mar 00:00</text>
<rect x="1745.05" y="866.50" width="1.50" height="3.20" fill="#3c3ca0" stroke="none"/>
<text x="1744.8" y="878.8" textLength="51.6" lengthAdjust="spacingAndGlyphs">20 Mar 08:00</text>
<rect x="1805.86" y="866.50" width="1.50" height="3.20" fill="#3c3ca0" stroke="none"/>
<text x="1805.6" y="878.8" textLength="51.6" lengthAdjust="spacingAndGlyphs">21 Mar 16:00</text>
</g>
<path d="M9.3,12.0 h7.0 l-3.5,4.7 z" fill="#1414a8"/>
<text x="21.4" y="17" font-size="9.7" fill="#2222b0" stroke="#2222b0" stroke-width="0.15" textLength="59.4" lengthAdjust="spacingAndGlyphs">EURGBP,Daily</text>
<text transform="translate(7.15,49.9) scale(0.682,1)" font-size="34.0" font-weight="bold" fill="#666">E</text>
<text transform="translate(24.12,49.9) scale(0.773,1)" font-size="34.0" font-weight="bold" fill="#666">U</text>
<text transform="translate(43.18,49.9) scale(0.755,1)" font-size="34.0" font-weight="bold" fill="#666">R</text>
<text transform="translate(62.18,49.9) scale(0.732,1)" font-size="34.0" font-weight="bold" fill="#666">G</text>
<text transform="translate(81.72,49.9) scale(0.738,1)" font-size="34.0" font-weight="bold" fill="#666">B</text>
<text transform="translate(100.01,49.9) scale(0.743,1)" font-size="34.0" font-weight="bold" fill="#666">P</text>
<text transform="translate(115.10,49.9) scale(0.822,1)" font-size="34.0" font-weight="bold" fill="#666">,</text>
<text transform="translate(131.02,49.9) scale(0.782,1)" font-size="34.0" font-weight="bold" fill="#666">D</text>
<text transform="translate(151.02,49.9) scale(0.689,1)" font-size="34.0" font-weight="bold" fill="#666">1</text>
<path d="M835.8,12.0 h7.0 l-3.5,4.7 z" fill="#1414a8"/>
<text x="847.9" y="17" font-size="9.7" fill="#2222b0" stroke="#2222b0" stroke-width="0.15" textLength="50.0" lengthAdjust="spacingAndGlyphs">EURGBP,H4</text>
<text transform="translate(833.35,49.9) scale(0.682,1)" font-size="34.0" font-weight="bold" fill="#666">E</text>
<text transform="translate(850.32,49.9) scale(0.773,1)" font-size="34.0" font-weight="bold" fill="#666">U</text>
<text transform="translate(869.38,49.9) scale(0.755,1)" font-size="34.0" font-weight="bold" fill="#666">R</text>
<text transform="translate(888.38,49.9) scale(0.732,1)" font-size="34.0" font-weight="bold" fill="#666">G</text>
<text transform="translate(907.92,49.9) scale(0.738,1)" font-size="34.0" font-weight="bold" fill="#666">B</text>
<text transform="translate(926.21,49.9) scale(0.743,1)" font-size="34.0" font-weight="bold" fill="#666">P</text>
<text transform="translate(941.30,49.9) scale(0.822,1)" font-size="34.0" font-weight="bold" fill="#666">,</text>
<text transform="translate(958.06,49.9) scale(0.765,1)" font-size="34.0" font-weight="bold" fill="#666">H</text>
<text transform="translate(977.00,49.9) scale(0.977,1)" font-size="34.0" font-weight="bold" fill="#666">4</text>
<rect x="6.90" y="838.20" width="13.20" height="13.50" fill="#b52a2a" />
<rect x="9.50" y="844.40" width="7.40" height="1.50" fill="#ffe0e0" />
<rect x="6.90" y="853.20" width="13.20" height="13.00" fill="#c4c4c4" />
<circle cx="11.5" cy="860.8" r="3.3" fill="#000"/>
<path d="M13.100000000000001,857.6 q0.4,-2.4 2,-2.2 q1.6,0.3 2.6,2.2" fill="none" stroke="#000" stroke-width="1.1"/>
<rect x="21.20" y="853.20" width="13.60" height="13.00" fill="#1e90ff" />
<rect x="26.50" y="858.90" width="2.80" height="2.80" fill="#fff" />
<rect x="833.70" y="838.20" width="13.20" height="13.50" fill="#b52a2a" />
<rect x="836.30" y="844.40" width="7.40" height="1.50" fill="#ffe0e0" />
<rect x="833.70" y="853.20" width="13.20" height="13.00" fill="#c4c4c4" />
<circle cx="838.3000000000001" cy="860.8" r="3.3" fill="#000"/>
<path d="M839.9000000000001,857.6 q0.4,-2.4 2,-2.2 q1.6,0.3 2.6,2.2" fill="none" stroke="#000" stroke-width="1.1"/>
<rect x="847.80" y="853.20" width="13.60" height="13.00" fill="#9400d3" />
<rect x="853.10" y="858.90" width="2.80" height="2.80" fill="#fff" />
<rect x="833.90" y="790.90" width="17.80" height="17.60" fill="#8a8a8a" />
<rect x="833.90" y="792.20" width="16.50" height="16.30" fill="#f4f4f4" />
<text x="842.1" y="804.4" font-size="11.5" text-anchor="middle" fill="#111">1</text>
<rect x="833.90" y="808.70" width="17.80" height="18.80" fill="#0a800a" />
<text x="842.3" y="822.4" font-size="11.5" text-anchor="middle" fill="#d8ffd8">2</text>
<g font-size="10.6" font-weight="bold" fill="#111" text-anchor="middle">
<text x="874.7" y="864.2">2</text>
<text x="880.6" y="864.2">3</text>
<text x="894.4" y="864.2">0</text>
<text x="900.4" y="864.2">3</text>
<text x="914.0" y="864.2">1</text>
<text x="921.0" y="864.2">6</text>
<text x="949.5" y="864.2">0</text>
<text x="955.3" y="864.2">2</text>
<text x="966.9" y="864.2">0</text>
<text x="972.7" y="864.2">0</text>
<text x="961.1" y="863.8">:</text>
</g>
<g fill="none" stroke="#111" stroke-width="1.35"><path d="M890.0,856.4 l-4.4,8.6 M909.8,856.4 l-4.4,8.6"/></g>
<g fill="none" stroke="#111" stroke-width="1.1"><path d="M929.2,855.9 q-2.3,4.4 0,8.8"/><path d="M941.6,855.9 q2.3,4.4 0,8.8"/></g>
<g fill="none" stroke="#111" stroke-width="1.45"><path d="M930.2,858.0 h9.4 M934.9,855.3 v9.5 M934.6,858.5 l-4.3,5 M935.2,858.5 l4.3,5"/></g>
<path d="M1629.1,356.6 h21 q1.5,0 1.5,1.5 v36.6 h13.6 q2.6,0 1,1.9 l-25.4,28.2 q-1.6,1.6 -3.2,0 l-25.4,-28.2 q-1.6,-1.9 1,-1.9 h14.4 v-36.6 q0,-1.5 1.5,-1.5 z" fill="#28b263"/>
<circle cx="1651" cy="573.6" r="31.3" fill="#28b263"/>
<polyline points="1634.8,572.2 1642.9,582.4 1667,564.4" fill="none" stroke="#fff" stroke-width="7.4" stroke-linecap="round" stroke-linejoin="round"/>
<g filter="url(#sh)">
<g transform="translate(1644.4,625.9) scale(0.286,0.268)" fill="none" stroke="#fff" stroke-width="41.5" stroke-linecap="round" stroke-linejoin="round">
<path d="M8,14 L26,26"/>
<path d="M2,42 L20,54"/>
<path d="M4,96 L26,66"/>
<path d="M42,26 H84 V54"/>
<path d="M32,54 H100"/>
<path d="M62,4 V54 Q60,80 34,98"/>
<path d="M64,58 Q74,84 100,94"/>
</g>
<g transform="translate(1677.0,625.9) scale(0.286,0.268)" fill="none" stroke="#fff" stroke-width="41.5" stroke-linecap="round" stroke-linejoin="round">
<path d="M8,14 L26,26"/>
<path d="M2,42 L20,54"/>
<path d="M4,96 L26,66"/>
<path d="M67,0 V16"/>
<path d="M36,18 H100"/>
<path d="M50,24 Q66,42 100,52"/>
<path d="M86,24 Q70,44 34,54"/>
<path d="M53,60 V80 Q51,92 40,100"/>
<path d="M87,60 V100"/>
<path d="M53,72 H87"/>
<path d="M53,86 H87"/>
</g>
<g clip-path="url(#ctw)"><g transform="translate(1676.3,684.1) scale(1,1.275)"><text x="0" y="0" font-size="30.4" font-weight="bold" fill="#fff" stroke="#fff" stroke-width="7.6" stroke-linejoin="round" textLength="123.5" lengthAdjust="spacingAndGlyphs">39.6pips</text></g></g>
<path d="M1648,671 H1670 M1659,660 V682" fill="none" stroke="#fff" stroke-width="11.5" stroke-linecap="round"/>
<g transform="translate(1644.4,625.9) scale(0.286,0.268)" fill="none" stroke="#f52b69" stroke-width="16.5" stroke-linecap="butt" stroke-linejoin="round">
<path d="M8,14 L26,26"/>
<path d="M2,42 L20,54"/>
<path d="M4,96 L26,66"/>
<path d="M42,26 H84 V54"/>
<path d="M32,54 H100"/>
<path d="M62,4 V54 Q60,80 34,98"/>
<path d="M64,58 Q74,84 100,94"/>
</g>
<g transform="translate(1677.0,625.9) scale(0.286,0.268)" fill="none" stroke="#f52b69" stroke-width="16.5" stroke-linecap="butt" stroke-linejoin="round">
<path d="M8,14 L26,26"/>
<path d="M2,42 L20,54"/>
<path d="M4,96 L26,66"/>
<path d="M67,0 V16"/>
<path d="M36,18 H100"/>
<path d="M50,24 Q66,42 100,52" stroke-width="12.0"/>
<path d="M86,24 Q70,44 34,54" stroke-width="12.0"/>
<path d="M53,60 V80 Q51,92 40,100"/>
<path d="M87,60 V100"/>
<path d="M53,72 H87" stroke-width="12.0"/>
<path d="M53,86 H87" stroke-width="12.0"/>
</g>
<g clip-path="url(#ctp)"><g transform="translate(1676.3,684.1) scale(1,1.275)"><text x="0" y="0" font-size="30.4" font-weight="bold" fill="#f52b69" stroke="#f52b69" stroke-width="0.7" textLength="123.5" lengthAdjust="spacingAndGlyphs">39.6pips</text></g></g>
<path d="M1648,671 H1670 M1659,660 V682" fill="none" stroke="#f52b69" stroke-width="4.5"/>
</g>
</svg></body></html>
